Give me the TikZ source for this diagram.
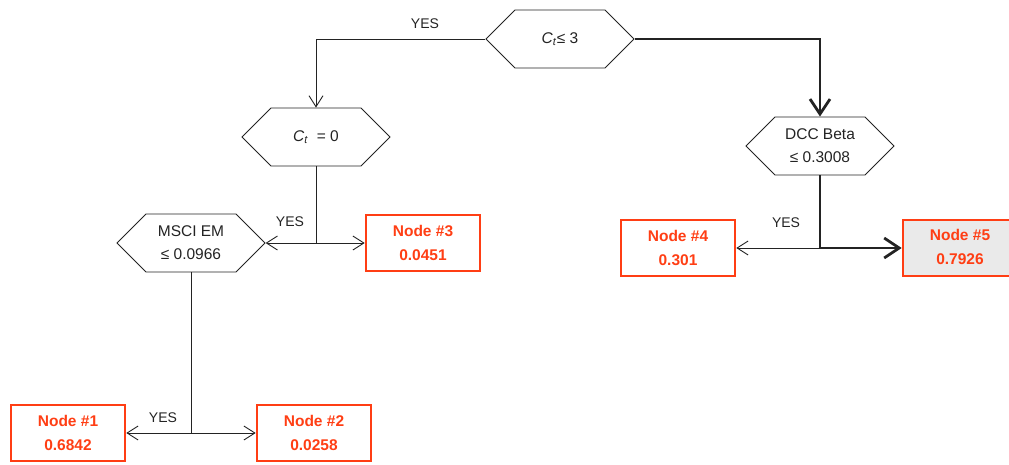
\documentclass[tikz,border=0pt]{standalone}
\usepackage{fontspec}
\setmainfont{Liberation Sans}
\usetikzlibrary{shapes.symbols,arrows.meta}
\definecolor{leafred}{RGB}{255,62,20}
\definecolor{leafgray}{RGB}{234,234,234}
\definecolor{ink}{RGB}{35,35,35}
\begin{document}
\begin{tikzpicture}[x=1pt,y=-1pt,
  split/.style={signal, signal to=west and east, signal pointer angle=90,
    draw=ink, line width=0.9pt, minimum width=148pt, minimum height=58pt,
    inner sep=0pt, align=center, text=ink,
    font=\fontsize{15.5}{23}\selectfont},
  leaf/.style={draw=leafred, line width=2.6pt, minimum width=114pt,
    minimum height=56pt, inner sep=0pt, align=center, text=leafred,
    font=\bfseries\fontsize{15.5}{24}\selectfont},
  link/.style={draw=ink, line width=0.9pt,
    -{Straight Barb[length=11pt,width=14pt]}},
  boldlink/.style={draw=ink, line width=2.8pt,
    -{Straight Barb[length=15pt,width=20pt]}},
  plain/.style={draw=ink, line width=0.9pt},
  yes/.style={text=ink, font=\fontsize{14}{16}\selectfont, inner sep=0pt}
]
\useasboundingbox (0,0) rectangle (1009,464);

% split nodes
\node[split] (root) at (560,39) {\textit{C}\textsubscript{\textit{t}}≤ 3};
\node[split] (ct)   at (316,137) {\textit{C}\textsubscript{\textit{t}}\ \ = 0};
\node[split] (msci) at (191,243) {MSCI EM\\≤ 0.0966};
\node[split] (dcc)  at (820,146) {DCC Beta\\≤ 0.3008};

% terminal nodes
\node[leaf] (n1) at (68,433)  {Node \#1\\0.6842};
\node[leaf] (n2) at (314,433) {Node \#2\\0.0258};
\node[leaf] (n3) at (423,243) {Node \#3\\0.0451};
\node[leaf] (n4) at (678,248) {Node \#4\\0.301};
% the last terminal runs past the right page edge; its text stays centred on x=960
\node[leaf, fill=leafgray, minimum width=140pt] (n5) at (973,248)
  {\begin{tabular}{@{}c@{}}Node \#5\\0.7926\end{tabular}\hspace{26pt}\mbox{}};

% junction points below the splits
\coordinate (j1) at (ct.south |- msci.east);
\coordinate (j2) at (msci.south |- n1.east);
\coordinate (j3) at (dcc.south |- n4.east);

% connectors
\draw[link] (root.west) -| (ct.north);
\draw[boldlink] (root.east) -| (dcc.north);

\draw[plain] (ct.south) -- (j1);
\draw[link] (j1) -- (msci.east);
\draw[link] (j1) -- (n3.west);

\draw[plain] (msci.south) -- (j2);
\draw[link] (j2) -- (n1.east);
\draw[link] (j2) -- (n2.west);

\draw[boldlink, -] (dcc.south) -- (j3);
\draw[link] (j3) -- (n4.east);
\draw[boldlink] ([xshift=-1.4pt]j3) -- (n5.west);

% branch labels
\node[yes] (y0) at (425,24)  {YES};
\node[yes] (y1) at (290,222) {YES};
\node[yes] (y2) at (163,418) {YES};
\node[yes] (y3) at (786,223) {YES};
\end{tikzpicture}
\end{document}
